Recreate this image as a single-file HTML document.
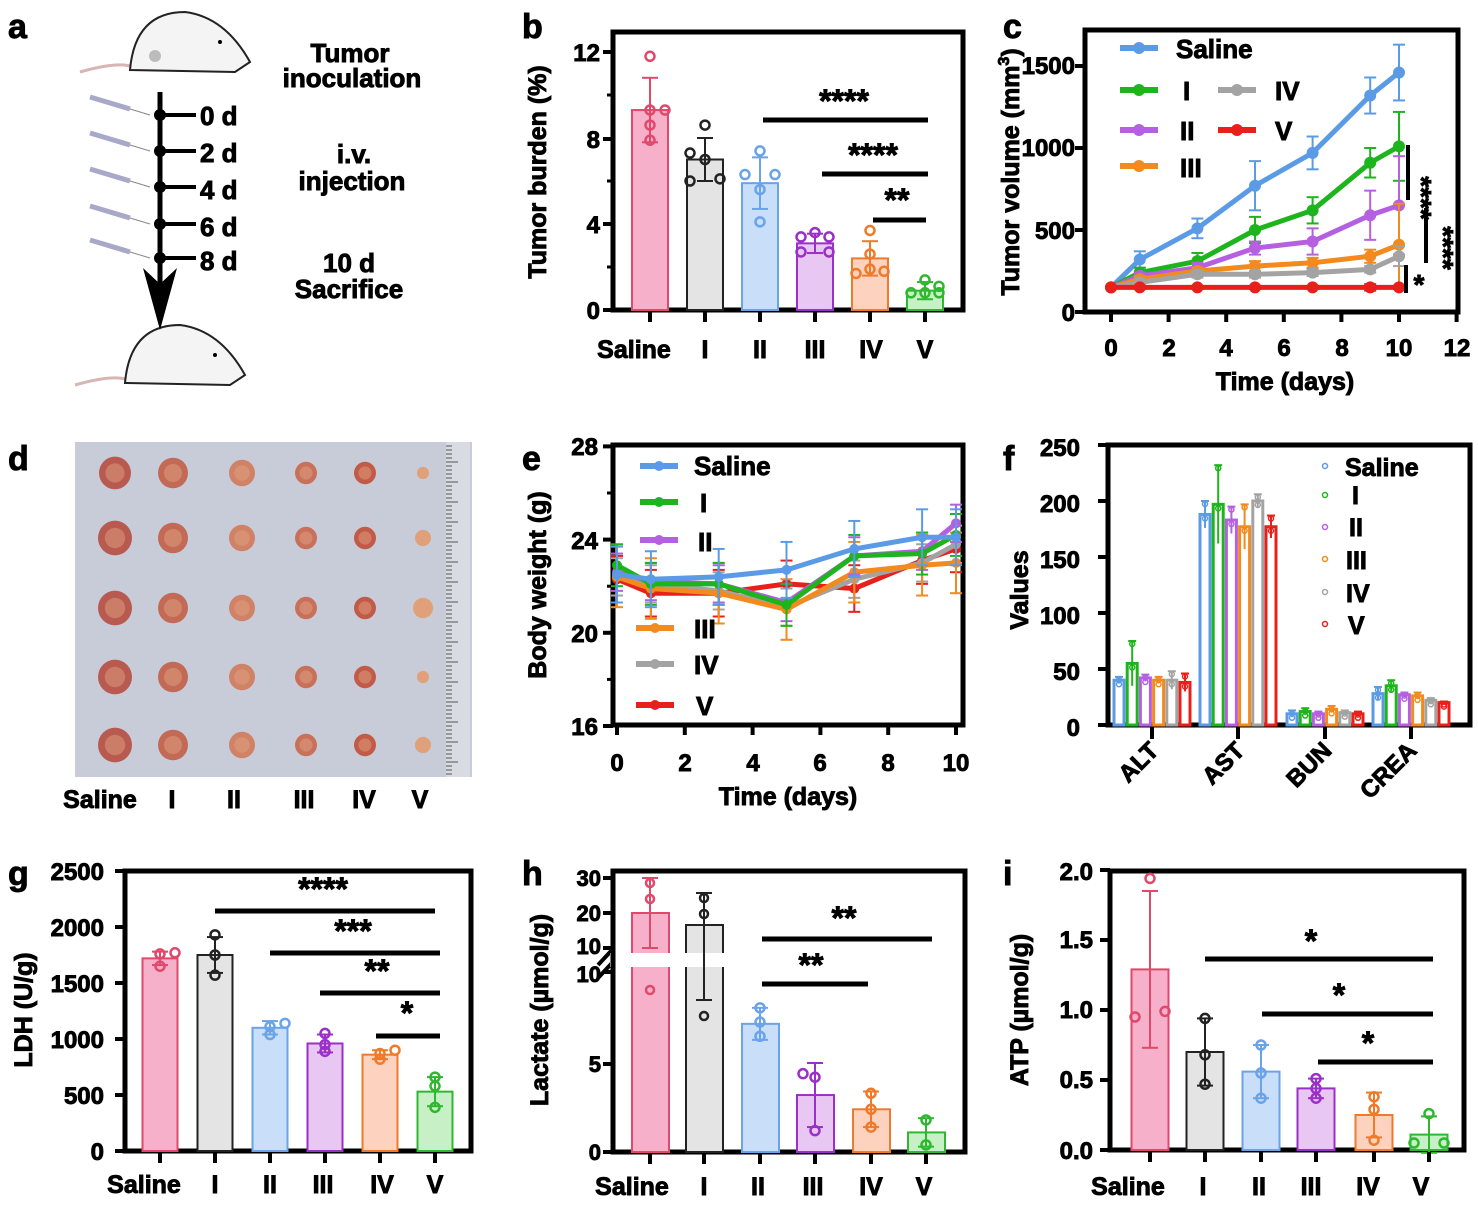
<!DOCTYPE html>
<html><head><meta charset="utf-8">
<style>
html,body{margin:0;padding:0;background:#fff;}
svg{display:block;}
text{font-family:"Liberation Sans",Arial,sans-serif;font-weight:700;stroke:#000;stroke-width:0.9px;fill:#000;}
</style></head>
<body>
<svg id="s" width="1478" height="1207" viewBox="0 0 1478 1207" xmlns="http://www.w3.org/2000/svg" font-family="Liberation Sans, Arial, sans-serif" font-weight="bold">
<rect width="1478" height="1207" fill="#fff"/>
<g id="shapes"></g>
<g font-size="34" fill="#000" font-weight="bold">
<text x="8" y="38">a</text><text x="522" y="38">b</text><text x="1003" y="38">c</text>
<text x="8" y="470">d</text><text x="522" y="470">e</text><text x="1003" y="470">f</text>
<text x="8" y="885">g</text><text x="522" y="885">h</text><text x="1003" y="885">i</text>
</g>
<g font-size="26" text-anchor="middle" font-weight="bold">
<text x="350" y="62">Tumor</text><text x="352" y="87">inoculation</text>
<text x="354" y="163">i.v.</text><text x="352" y="190">injection</text>
<text x="349" y="272">10 d</text><text x="349" y="298">Sacrifice</text>
</g>
<g font-size="26" font-weight="bold">
<text x="200" y="125">0 d</text><text x="200" y="162">2 d</text><text x="200" y="199">4 d</text><text x="200" y="236">6 d</text><text x="200" y="270">8 d</text>
</g>
<g font-size="24" text-anchor="end" font-weight="bold">
<text x="600" y="61">12</text><text x="600" y="148">8</text><text x="600" y="233">4</text><text x="600" y="319">0</text>
</g>
<g font-size="25" text-anchor="middle" font-weight="bold">
<text x="634" y="358">Saline</text><text x="705" y="358">I</text><text x="760" y="358">II</text><text x="815" y="358">III</text><text x="871" y="358">IV</text><text x="925" y="358">V</text>
</g>
<text font-size="25" font-weight="bold" text-anchor="middle" transform="translate(546,172) rotate(-90)">Tumor burden (%)</text>
<g font-size="32" text-anchor="middle" font-weight="bold">
<text x="844" y="112">****</text><text x="873" y="166">****</text><text x="897" y="211">**</text>
</g>
<g font-size="24" text-anchor="end" font-weight="bold">
<text x="1075" y="74">1500</text><text x="1075" y="156">1000</text><text x="1075" y="239">500</text><text x="1075" y="321">0</text>
</g>
<g font-size="24" text-anchor="middle" font-weight="bold">
<text x="1111" y="356">0</text><text x="1169" y="356">2</text><text x="1226" y="356">4</text><text x="1284" y="356">6</text><text x="1342" y="356">8</text><text x="1399" y="356">10</text><text x="1457" y="356">12</text>
</g>
<text font-size="25" font-weight="bold" x="1285" y="390" text-anchor="middle">Time (days)</text>
<text font-size="25" font-weight="bold" text-anchor="middle" transform="translate(1019,172) rotate(-90)">Tumor volume (mm<tspan font-size="16" dy="-10">3</tspan><tspan dy="10">)</tspan></text>
<g font-size="26" font-weight="bold">
<text x="1176" y="58">Saline</text><text x="1183" y="100">I</text><text x="1275" y="100">IV</text>
<text x="1180" y="140">II</text><text x="1275" y="140">V</text><text x="1180" y="177">III</text>
</g>
<g font-size="28" text-anchor="middle" font-weight="bold">
<text transform="translate(1412,198) rotate(90)">****</text>
<text transform="translate(1434,248) rotate(90)">****</text>
<text x="1419" y="294">*</text>
</g>
<g font-size="25" text-anchor="middle" font-weight="bold">
<text x="100" y="808">Saline</text><text x="172" y="808">I</text><text x="234" y="808">II</text><text x="304" y="808">III</text><text x="364" y="808">IV</text><text x="420" y="808">V</text>
</g>
<g font-size="24" text-anchor="end" font-weight="bold">
<text x="598" y="455">28</text><text x="598" y="549">24</text><text x="598" y="642">20</text><text x="598" y="735">16</text>
</g>
<g font-size="24" text-anchor="middle" font-weight="bold">
<text x="617" y="771">0</text><text x="685" y="771">2</text><text x="753" y="771">4</text><text x="820" y="771">6</text><text x="888" y="771">8</text><text x="956" y="771">10</text>
</g>
<text font-size="25" font-weight="bold" x="788" y="805" text-anchor="middle">Time (days)</text>
<text font-size="25" font-weight="bold" text-anchor="middle" transform="translate(546,585) rotate(-90)">Body weight (g)</text>
<g font-size="26" font-weight="bold">
<text x="694" y="475">Saline</text><text x="700" y="512">I</text><text x="698" y="551">II</text>
<text x="694" y="638">III</text><text x="694" y="674">IV</text><text x="696" y="715">V</text>
</g>
<g font-size="24" text-anchor="end" font-weight="bold">
<text x="1080" y="456">250</text><text x="1080" y="512">200</text><text x="1080" y="568">150</text><text x="1080" y="624">100</text><text x="1080" y="680">50</text><text x="1080" y="736">0</text>
</g>
<text font-size="25" font-weight="bold" text-anchor="middle" transform="translate(1028,590) rotate(-90)">Values</text>
<g font-size="24" text-anchor="end" font-weight="bold">
<text transform="translate(1160,752) rotate(-45)">ALT</text>
<text transform="translate(1246,752) rotate(-45)">AST</text>
<text transform="translate(1333,752) rotate(-45)">BUN</text>
<text transform="translate(1418,752) rotate(-45)">CREA</text>
</g>
<g font-size="25" font-weight="bold">
<text x="1345" y="476">Saline</text><text x="1352" y="504">I</text><text x="1349" y="536">II</text>
<text x="1346" y="569">III</text><text x="1346" y="602">IV</text><text x="1348" y="634">V</text>
</g>
<g font-size="24" text-anchor="end" font-weight="bold">
<text x="104" y="880">2500</text><text x="104" y="936">2000</text><text x="104" y="992">1500</text><text x="104" y="1048">1000</text><text x="104" y="1104">500</text><text x="104" y="1160">0</text>
</g>
<g font-size="25" text-anchor="middle" font-weight="bold">
<text x="144" y="1193">Saline</text><text x="215" y="1193">I</text><text x="270" y="1193">II</text><text x="323" y="1193">III</text><text x="382" y="1193">IV</text><text x="435" y="1193">V</text>
</g>
<text font-size="25" font-weight="bold" text-anchor="middle" transform="translate(32,1010) rotate(-90)">LDH (U/g)</text>
<g font-size="32" text-anchor="middle" font-weight="bold">
<text x="323" y="900">****</text><text x="353" y="942">***</text><text x="377" y="982">**</text><text x="407" y="1024">*</text>
</g>
<g font-size="22" text-anchor="end" font-weight="bold">
<text x="601" y="886">30</text><text x="601" y="921">20</text><text x="601" y="954">10</text><text x="601" y="982">10</text><text x="601" y="1072">5</text><text x="601" y="1160">0</text>
</g>
<g font-size="25" text-anchor="middle" font-weight="bold">
<text x="632" y="1195">Saline</text><text x="704" y="1195">I</text><text x="758" y="1195">II</text><text x="813" y="1195">III</text><text x="871" y="1195">IV</text><text x="924" y="1195">V</text>
</g>
<text font-size="25" font-weight="bold" text-anchor="middle" transform="translate(548,1010) rotate(-90)">Lactate (µmol/g)</text>
<g font-size="32" text-anchor="middle" font-weight="bold">
<text x="844" y="929">**</text><text x="811" y="976">**</text>
</g>
<g font-size="24" text-anchor="end" font-weight="bold">
<text x="1093" y="880">2.0</text><text x="1093" y="948">1.5</text><text x="1093" y="1018">1.0</text><text x="1093" y="1088">0.5</text><text x="1093" y="1159">0.0</text>
</g>
<g font-size="25" text-anchor="middle" font-weight="bold">
<text x="1128" y="1195">Saline</text><text x="1203" y="1195">I</text><text x="1259" y="1195">II</text><text x="1311" y="1195">III</text><text x="1368" y="1195">IV</text><text x="1421" y="1195">V</text>
</g>
<text font-size="25" font-weight="bold" text-anchor="middle" transform="translate(1028,1010) rotate(-90)">ATP (µmol/g)</text>
<g font-size="32" text-anchor="middle" font-weight="bold">
<text x="1311" y="952">*</text><text x="1339" y="1006">*</text><text x="1368" y="1054">*</text>
</g>
</svg>
<script>
const NS="http://www.w3.org/2000/svg",G=document.getElementById("shapes");
function el(t,a){const e=document.createElementNS(NS,t);for(const k in a)e.setAttribute(k,a[k]);G.appendChild(e);return e;}
function line(x1,y1,x2,y2,c,w){el("line",{x1,y1,x2,y2,stroke:c||"#000","stroke-width":w||3});}
function box(x1,y1,x2,y2){el("rect",{x:x1,y:y1,width:x2-x1,height:y2-y1,fill:"none",stroke:"#000","stroke-width":5});}
const C={s:"#5b9be6",I:"#1db41d",II:"#b560e0",III:"#f28a1e",IV:"#a3a3a3",V:"#e8201c"};
const BF=[["#f7b0c9","#e0486c"],["#e4e4e4","#222"],["#c9def8","#6aa3e8"],["#e8c8f3","#9a30c8"],["#fdd3c0","#ef7a2a"],["#c8f0c6","#2fb82f"]];
function mouse(cx,cy,s){
 el("path",{d:`M${cx-95*s},${cy+20*s} Q${cx-60*s},${cy+10*s} ${cx-45*s},${cy+14*s}`,stroke:"#d8b4b4","stroke-width":3,fill:"none"});
 el("path",{d:`M${cx-45*s},${cy+18*s} Q${cx-40*s},${cy-40*s} ${cx+10*s},${cy-40*s} Q${cx+50*s},${cy-35*s} ${cx+75*s},${cy+10*s} L${cx+60*s},${cy+20*s} Z`,fill:"#f4f4f4",stroke:"#222","stroke-width":2});
 el("circle",{cx:cx+45*s,cy:cy-10*s,r:2,fill:"#000"});
}
mouse(175,52,1);mouse(170,365,1);
el("circle",{cx:155,cy:56,r:6,fill:"#bcbcbc"});
line(160,92,160,300,"#000",5);
el("path",{d:"M143,268 L160,330 L177,268 L160,284 Z",fill:"#000"});
[115,151,187,224,258].forEach(y=>{line(160,y,196,y,"#000",4);el("circle",{cx:160,cy:y,r:6,fill:"#000"});
 line(90,y-18,130,y-6,"#a8a8c8",5);line(130,y-6,150,y,"#888",1);});
function bars(xs,w,y0,sc,vals,errs,pts,sigs){
 xs.forEach((x,i)=>{const [f,s]=BF[i];const h=vals[i]*sc;
  el("rect",{x:x-w/2,y:y0-h,width:w,height:h,fill:f,stroke:s,"stroke-width":2});
  const e=errs[i]*sc;line(x,y0-h-e,x,y0-h+e,s,2);line(x-8,y0-h-e,x+8,y0-h-e,s,2);line(x-8,y0-h+e,x+8,y0-h+e,s,2);
  pts[i].forEach(p=>el("circle",{cx:x+p[0],cy:y0-p[1]*sc,r:4.5,fill:"none",stroke:s,"stroke-width":2.5}));
  line(x,y0+2,x,y0+12,"#000",4);
 });
 sigs.forEach(s=>line(s[0],s[2],s[1],s[2],"#000",5));
}
box(613,32,963,310);
[[52,12],[139,8],[224,4],[310,0]].forEach(t=>line(603,t[0],613,t[0],"#000",4));
[95,181,267].forEach(y=>line(607,y,613,y,"#000",3));
bars([650,705,760,815,870,925],36,310,21.5,[9.3,7.0,5.9,3.1,2.4,0.9],[1.5,1.0,1.2,0.45,0.8,0.4],
 [[[0,11.8],[0,9.3],[0,8.6],[0,7.9],[15,9.3]],[[-15,7.3],[0,8.6],[0,7.0],[-15,6.0],[15,6.1]],[[0,7.4],[-15,6.3],[15,6.3],[0,5.6],[0,4.1]],[[-14,3.4],[0,3.6],[14,3.4],[-14,2.7],[14,2.7]],[[0,3.7],[0,2.6],[-14,1.7],[0,1.9],[14,1.8]],[[0,1.4],[-14,0.8],[0,0.8],[14,0.8],[14,1.1]]],
 [[763,928,120],[822,928,174],[873,926,220]]);
box(1085,30,1458,312);
const cx=d=>1111+28.8*d, cy=v=>312-v*0.164;
[0,500,1000,1500].forEach(v=>line(1075,cy(v),1085,cy(v),"#000",4));
[0,2,4,6,8,10,12].forEach(d=>line(cx(d),312,cx(d),322,"#000",4));
const days=[0,1,3,5,7,9,10];
const cs=[["s",[150,320,510,770,970,1320,1460],[0,50,60,150,100,110,170]],["I",[150,240,310,500,620,910,1010],[0,30,50,80,80,90,210]],["II",[150,220,270,390,430,590,650],[0,20,30,40,80,150,300]],["III",[150,200,250,280,300,340,410],[0,20,20,30,30,40,250]],["IV",[150,180,230,230,240,260,340],[0,20,20,20,20,20,60]],["V",[150,150,150,150,150,150,150],[0,10,10,10,10,20,10]]];
cs.forEach(c=>{const col=C[c[0]];c[1].forEach((v,i)=>{const x=cx(days[i]),e=c[2][i]*0.164;line(x,cy(v)-e,x,cy(v)+e,col,2);line(x-6,cy(v)-e,x+6,cy(v)-e,col,2);line(x-6,cy(v)+e,x+6,cy(v)+e,col,2);});
 el("polyline",{points:c[1].map((v,i)=>cx(days[i])+","+cy(v)).join(" "),fill:"none",stroke:col,"stroke-width":5});
 c[1].forEach((v,i)=>el("circle",{cx:cx(days[i]),cy:cy(v),r:6,fill:col}));});
[["s",1120,48],["I",1120,90],["IV",1218,90],["II",1120,130],["V",1218,130],["III",1120,166]].forEach(l=>{line(l[1],l[2],l[1]+38,l[2],C[l[0]],6);el("circle",{cx:l[1]+19,cy:l[2],r:6,fill:C[l[0]]});});
line(1408,145,1408,200,"#000",4);line(1426,208,1426,263,"#000",4);line(1406,265,1406,293,"#000",4);
el("rect",{x:75,y:442,width:397,height:335,fill:"#c8ccd8"});
el("rect",{x:446,y:442,width:24,height:335,fill:"#d8dbe2"});
for(let y=446;y<777;y+=4)line(446,y,y%20<4?458:452,y,"#555",1);
const tx=[115,173,242,306,365,423],tr=[16,15,13,11,11,6],ty=[473,538,608,677,745];
const tc=["#b85a50","#c26a56","#d08266","#c8705a","#c25a48","#e0a078"];
ty.forEach((y,j)=>tx.forEach((x,i)=>{const r=tr[i]+(i==5?j%3*2:0)+(i==0&&j>0?1:0);el("ellipse",{cx:x,cy:y,rx:r,ry:r*1.02,fill:tc[i]});el("ellipse",{cx:x,cy:y,rx:r*0.6,ry:r*0.6,fill:"#e0a080",opacity:0.5});}));
box(613,445,963,725);
const ex=d=>617+33.9*d, ey=v=>726-(v-16)*23.3;
[16,20,24,28].forEach(v=>line(603,ey(v),613,ey(v),"#000",4));
[18,22,26].forEach(v=>line(607,ey(v),613,ey(v),"#000",3));
[0,2,4,6,8,10].forEach(d=>line(ex(d),725,ex(d),735,"#000",4));
const es=[["V",[22.3,21.7,21.7,22.1,21.9,23.1,23.6],1],["IV",[22.4,22.1,21.8,21.1,22.3,23.0,23.8],0.8],["III",[22.4,21.9,21.7,21.0,22.6,22.9,23.0],1.3],["II",[22.6,22.2,22.1,21.3,23.3,23.5,24.7],0.8],["I",[22.9,22.1,22.1,21.2,23.3,23.4,24.2],0.9],["s",[22.5,22.3,22.4,22.7,23.6,24.1,24.1],1.2]];
es.forEach(s=>{const col=C[s[0]];s[1].forEach((v,i)=>{const x=ex(days[i]),e=s[2]*23.3;line(x,ey(v)-e,x,ey(v)+e,col,2);line(x-6,ey(v)-e,x+6,ey(v)-e,col,2);line(x-6,ey(v)+e,x+6,ey(v)+e,col,2);});
 el("polyline",{points:s[1].map((v,i)=>ex(days[i])+","+ey(v)).join(" "),fill:"none",stroke:col,"stroke-width":5});
 s[1].forEach((v,i)=>el("circle",{cx:ex(days[i]),cy:ey(v),r:5,fill:col}));});
[["s",640,466],["I",640,502],["II",640,540],["III",636,628],["IV",636,664],["V",636,705]].forEach(l=>{line(l[1],l[2],l[1]+38,l[2],C[l[0]],6);el("circle",{cx:l[1]+19,cy:l[2],r:5,fill:C[l[0]]});});
box(1108,445,1470,725);
[0,50,100,150,200,250].forEach(v=>line(1098,725-v*1.12,1108,725-v*1.12,"#000",4));
const fc=[C.s,C.I,C.II,C.III,C.IV,C.V];
const fv=[[40,55,42,40,40,38],[188,197,183,177,200,177],[10,12,10,14,11,10],[28,35,27,26,22,20]];
const fe=[[3,20,3,3,8,8],[12,35,12,20,6,10],[3,3,2,3,2,2],[6,5,2,3,2,1]];
[1152,1238,1325,1411].forEach((gx,g)=>{line(gx,727,gx,739,"#000",4);
 fc.forEach((col,k)=>{const x=gx-33+k*13.2,h=fv[g][k]*1.12,e=fe[g][k]*1.12;
  el("rect",{x:x-5,y:725-h,width:10,height:h,fill:"#fff",stroke:col,"stroke-width":3});
  line(x,725-h-e,x,725-h+e,col,2);line(x-4,725-h-e,x+4,725-h-e,col,2);
  el("circle",{cx:x,cy:725-h-e+3,r:2.5,fill:"none",stroke:col,"stroke-width":1.5});
  el("circle",{cx:x,cy:725-h+4,r:2.5,fill:"none",stroke:col,"stroke-width":1.5});});});
fc.forEach((col,k)=>el("circle",{cx:1325,cy:[466,495,527,559,592,624][k],r:2.5,fill:"none",stroke:col,"stroke-width":1.5}));
box(125,871,471,1151);
[0,500,1000,1500,2000,2500].forEach(v=>line(115,1151-v*0.112,125,1151-v*0.112,"#000",4));
bars([160,215,270,325,380,435],35,1151,0.112,[1720,1750,1100,960,860,530],[60,160,60,80,40,130],
 [[[0,1650],[0,1760],[15,1770]],[[0,1930],[0,1750],[0,1570]],[[0,1040],[0,1110],[15,1140]],[[0,1050],[0,950],[0,890]],[[0,820],[0,870],[15,900]],[[0,660],[0,580],[0,390]]],
 [[215,435,911],[270,440,953],[320,440,993],[376,440,1036]]);
box(613,871,965,1152);
[[878],[913],[948],[972],[1064],[1152]].forEach(t=>line(603,t[0],613,t[0],"#000",4));
el("rect",{x:600,y:953,width:370,height:14,fill:"#fff"});
line(598,965,612,950,"#000",4);line(598,978,612,963,"#000",4);
const hy=v=>1152-v*17.8;
const hB=[[650,"#f7b0c9","#e0486c",913],[704,"#e4e4e4","#222",925]];
hB.forEach(b=>{el("rect",{x:b[0]-18,y:b[3],width:37,height:1152-b[3],fill:b[1],stroke:b[2],"stroke-width":2});});
el("rect",{x:610,y:953,width:340,height:14,fill:"#fff"});
line(613,953,613,967,"#000",5);line(965,953,965,967,"#000",5);
line(650,878,650,948,"#e0486c",2);line(642,878,658,878,"#e0486c",2);line(642,948,658,948,"#e0486c",2);
el("circle",{cx:650,cy:883,r:4,fill:"none",stroke:"#e0486c","stroke-width":2.5});el("circle",{cx:650,cy:899,r:4,fill:"none",stroke:"#e0486c","stroke-width":2.5});el("circle",{cx:650,cy:990,r:4,fill:"none",stroke:"#e0486c","stroke-width":2.5});
line(704,893,704,1000,"#222",2);line(696,893,712,893,"#222",2);line(696,1000,712,1000,"#222",2);
el("circle",{cx:704,cy:898,r:4,fill:"none",stroke:"#222","stroke-width":2.5});el("circle",{cx:704,cy:914,r:4,fill:"none",stroke:"#222","stroke-width":2.5});el("circle",{cx:704,cy:1016,r:4,fill:"none",stroke:"#222","stroke-width":2.5});
[650,704].forEach(x=>line(x,1154,x,1164,"#000",4));
const hx=[760,815,871,926],hv=[7.2,3.2,2.4,1.1],he=[0.9,1.8,1.0,0.8];
const hp=[[[0,8.1],[0,7.3],[0,6.5]],[[-12,4.4],[0,4.2],[0,1.2]],[[0,3.3],[0,2.4],[0,1.4]],[[0,1.8],[0,0.4]]];
hx.forEach((x,i)=>{const [f,s]=BF[i+2];const h=hv[i]*17.8,e=he[i]*17.8;
 el("rect",{x:x-18,y:1152-h,width:37,height:h,fill:f,stroke:s,"stroke-width":2});
 line(x,1152-h-e,x,1152-h+e,s,2);line(x-8,1152-h-e,x+8,1152-h-e,s,2);line(x-8,1152-h+e,x+8,1152-h+e,s,2);
 hp[i].forEach(p=>el("circle",{cx:x+p[0],cy:hy(p[1]),r:4.5,fill:"none",stroke:s,"stroke-width":2.5}));
 line(x,1154,x,1164,"#000",4);});
line(762,939,932,939,"#000",5);line(762,984,868,984,"#000",5);
box(1110,871,1464,1150);
[0,0.5,1,1.5,2].forEach(v=>line(1100,1150-v*140,1110,1150-v*140,"#000",4));
bars([1150,1205,1261,1316,1374,1429],37,1150,140,[1.29,0.7,0.56,0.44,0.25,0.11],[0.56,0.24,0.19,0.07,0.16,0.13],
 [[[0,1.94],[-15,0.95],[15,0.99]],[[0,0.94],[0,0.68],[0,0.47]],[[0,0.75],[0,0.55],[0,0.37]],[[0,0.51],[0,0.44],[0,0.37]],[[0,0.38],[0,0.29],[0,0.07]],[[0,0.26],[-15,0.05],[15,0.05]]],
 [[1205,1433,959],[1262,1433,1014],[1318,1433,1062]]);
</script>
</body></html>
